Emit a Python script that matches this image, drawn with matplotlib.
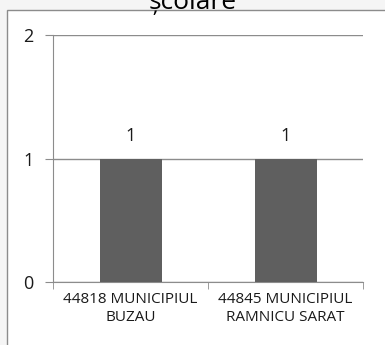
import numpy as np
import matplotlib.pyplot as plt
from matplotlib.patches import Rectangle

categories = ['44818 MUNICIPIUL\nBUZAU', '44845 MUNICIPIUL\nRAMNICU SARAT']
values = [1, 1]
title = 'școlare'

plt.rcParams['font.family'] = ['Open Sans', 'DejaVu Sans']

fig = plt.figure(figsize=(3.85, 3.45), dpi=100, facecolor='#f5f5f5')
fig.patches.append(Rectangle((7 / 385, -0.1), 1.2, 1.1 - 10 / 345,
                             transform=fig.transFigure, facecolor='white',
                             edgecolor='#8c8c8c', linewidth=1.0, zorder=0))
fig.text(0.5, 1 - 9 / 345, title, ha='center', va='baseline', fontsize=19,
         color='black', zorder=2)

ax = fig.add_axes([53 / 385, 63 / 345, 310 / 385, 247 / 345], zorder=1)
ax.set_facecolor('none')
x = np.arange(len(categories))
bars = ax.bar(x, values, width=0.4, color='#5f5f5f', zorder=3)
for b, v in zip(bars, values):
    ax.text(b.get_x() + b.get_width() / 2, v + 0.11, str(v), ha='center',
            va='bottom', fontsize=13, color='#1a1a1a')

ax.set_xlim(-0.5, len(categories) - 0.5)
ax.set_ylim(0, 2)
ax.set_yticks([0, 1, 2])
ax.yaxis.grid(True, color='#8c8c8c', linewidth=1.0)
ax.set_axisbelow(True)
ax.tick_params(axis='y', length=6, color='#8c8c8c', labelsize=13,
               labelcolor='#1a1a1a', pad=8)

ax.set_xticks(x)
ax.set_xticklabels(categories, fontsize=11, color='#1a1a1a', linespacing=1.3)
ax.set_xticks(np.arange(-0.5, len(categories), 1.0), minor=True)
ax.tick_params(axis='x', which='major', length=0, pad=7)
ax.tick_params(axis='x', which='minor', length=5, color='#8c8c8c')

for s in ['top', 'right']:
    ax.spines[s].set_visible(False)
for s in ['left', 'bottom']:
    ax.spines[s].set_color('#8c8c8c')

fig.savefig('out.png', dpi=100, facecolor=fig.get_facecolor())
